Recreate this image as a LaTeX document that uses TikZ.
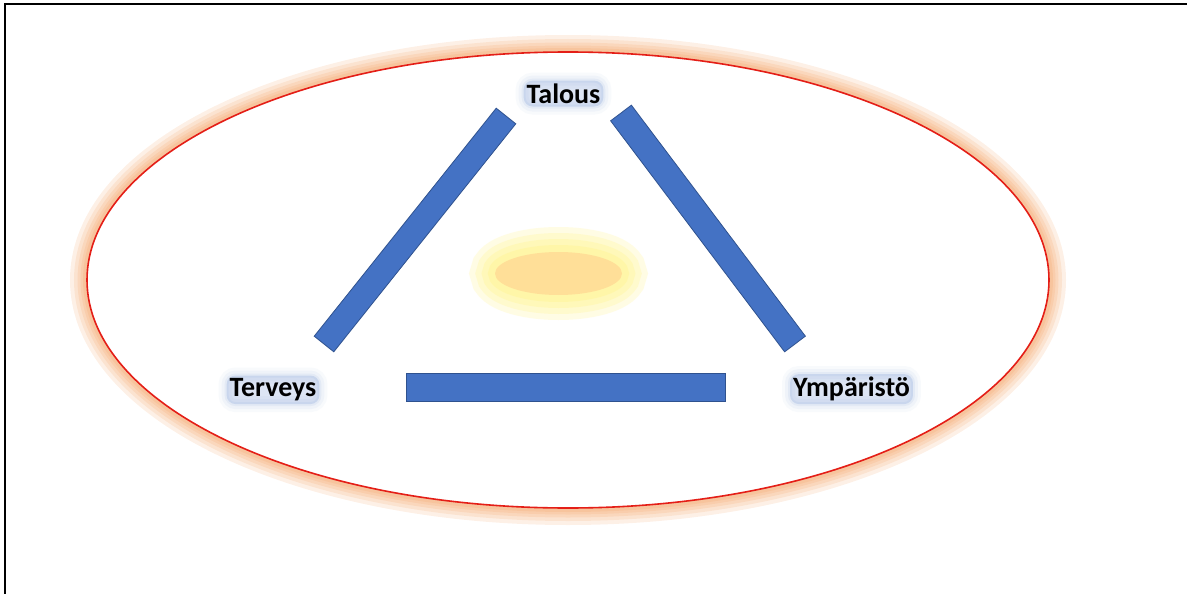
\documentclass[tikz,border=0pt]{standalone}
\usepackage{fontspec}
\setmainfont{Carlito}
\usetikzlibrary{calc}
\definecolor{barblue}{HTML}{4472C4}
\definecolor{bardark}{HTML}{2F528F}
\definecolor{rimred}{HTML}{E41E17}
\definecolor{rimglow}{HTML}{F08A3C}
\definecolor{sunfill}{HTML}{FFDF98}
\definecolor{sunglow}{HTML}{FFF04D}
\definecolor{textglow}{HTML}{8FAADC}
\begin{document}
\begin{tikzpicture}[x=1pt,y=-1pt]
		\begin{scope}
		
		\tikzstyle{bar}=[fill=barblue,
		draw=bardark,
		line width=0.8pt
		]
		\tikzstyle{mylabel}=[font=\bfseries\fontsize{28}{30}\selectfont,
		anchor=base,
		inner sep=3pt,
		rounded corners=9pt,
		fill=textglow,
		fill opacity=0.30,
		text opacity=1,
		preaction={draw=textglow, line width=16pt, draw opacity=0.06},
		preaction={draw=textglow, line width=10pt, draw opacity=0.08},
		preaction={draw=textglow, line width=4pt, draw opacity=0.12}
		]
		
		\useasboundingbox (0,0) rectangle (1187,594);
		\draw[line width=2pt] (5,594) -- (5,4) -- (1187,4);
		
		\coordinate (pe) at (568,280);
		\coordinate (ps) at (558.5,273.5);
		
		\coordinate (pl1) at (506,116);
		\coordinate (pl2) at (324,344);
		\coordinate (pr1) at (621,113);
		\coordinate (pr2) at (795,344);
		\coordinate (pb1) at (406,387);
		\coordinate (pb2) at (725,387);
		
		\coordinate (pt1) at (563.5,103.3);
		\coordinate (pt2) at (273,396.7);
		\coordinate (pt3) at (851.5,396.7);
		
		% outer ellipse with glow
		\foreach \w in {34,26,19,13,8}
		\draw[rimglow, line width=\w pt, draw opacity=0.13] (pe) ellipse [x radius=481, y radius=228];
		\fill[white] (pe) ellipse [x radius=481, y radius=228];
		\draw[rimred, line width=1.6pt] (pe) ellipse [x radius=481, y radius=228];
		
		% sun in the middle
		\foreach \w in {50,38,26,14}
		\draw[sunglow, line width=\w pt, draw opacity=0.15] (ps) ellipse [x radius=63.5, y radius=21.5];
		\fill[sunfill] (ps) ellipse [x radius=63.5, y radius=21.5];
		
		% bars
		\foreach \a/\b/\h in {pl1/pl2/12.5pt, pr1/pr2/13pt, pb1/pb2/14pt}
		\filldraw[bar] ($(\a)!\h!90:(\b)$) -- ($(\a)!\h!-90:(\b)$) -- ($(\b)!\h!90:(\a)$) -- ($(\b)!\h!-90:(\a)$) -- cycle;
		
		\node[mylabel] (talous) at (pt1) {Talous};
		\node[mylabel] (terveys) at (pt2) {Terveys};
		\node[mylabel] (ymparisto) at (pt3) {Ympäristö};
		
		\end{scope}
\end{tikzpicture}
\end{document}
